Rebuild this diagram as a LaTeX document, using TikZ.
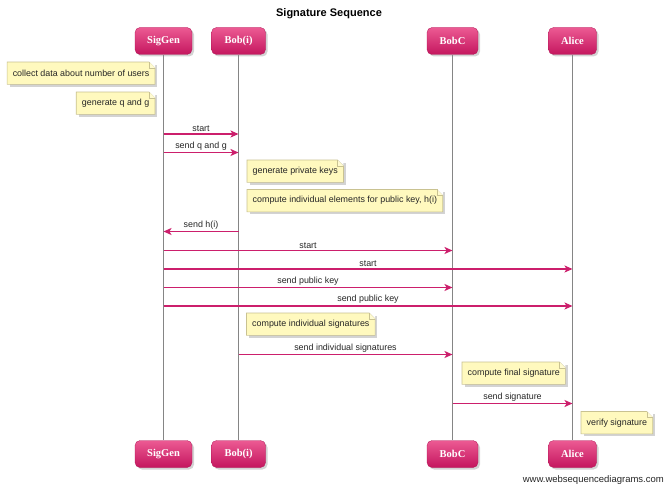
\documentclass[tikz,border=0pt]{standalone}
\usepackage{fontspec}
\setmainfont{Liberation Sans}
\newfontfamily\partfont{Liberation Serif}
\usetikzlibrary{arrows.meta,shadows,calc}
\definecolor{msgc}{HTML}{CC1F6C}
\definecolor{pinkA}{HTML}{EC5A93}
\definecolor{pinkB}{HTML}{C4165E}
\definecolor{notefill}{HTML}{FFF9BE}
\definecolor{notedraw}{HTML}{C9C291}
\definecolor{lifec}{HTML}{858585}
\tikzset{
  part/.style={rounded corners=5pt, minimum width=#1, minimum height=27pt,
    top color=pinkA, bottom color=pinkB, draw=pinkB!90!black, line width=0.3pt,
    drop shadow={shadow xshift=2pt, shadow yshift=-2pt, opacity=0.35},
    font=\partfont\bfseries\fontsize{10.5}{12}\selectfont, text=white},
  lifeline/.style={draw=lifec, line width=1.3pt},
  msg/.style={draw=msgc, line width=1.4pt, -{Stealth[length=8pt,width=7pt,inset=2pt]}},
  msglabel/.style={font=\fontsize{8.9}{10}\selectfont, text=black!85, above=0pt, inner sep=1.5pt},
  notebox/.style={font=\fontsize{8.9}{10}\selectfont, text=black!85, minimum height=22pt,
    inner xsep=5.5pt, inner ysep=2pt, fill=notefill,
    drop shadow={shadow xshift=2.5pt, shadow yshift=-2.5pt, opacity=0.35}},
}
\newcommand\wsdnote[1]{%
  \fill[white] ($(#1.north east)+(-6,0)$) -- (#1.north east) -- ($(#1.north east)+(0,6)$) -- cycle;
  \draw[notedraw, line width=0.6pt] (#1.south west) -- (#1.north west) -- ($(#1.north east)+(-6,0)$)
     -- ($(#1.north east)+(0,6)$) -- (#1.south east) -- cycle;
  \draw[notedraw, line width=0.5pt, fill=notefill!70!white] ($(#1.north east)+(-6,0)$) -- ($(#1.north east)+(-6,6)$) -- ($(#1.north east)+(0,6)$);
}
\begin{document}
\begin{tikzpicture}[x=1pt,y=-1pt]
\useasboundingbox (0,0) rectangle (664,486);
\node[font=\bfseries\fontsize{11}{13}\selectfont] (title) at (329,14) {Signature Sequence};

% participants
\node[part=57pt] (sgT) at (163.5,41) {SigGen};
\node[part=54pt] (bbT) at (238.5,41) {Bob(i)};
\node[part=51pt] (bcT) at (452.5,41) {BobC};
\node[part=48pt] (alT) at (572.5,41) {Alice};
\node[part=57pt] (sgB) at (163.5,454) {SigGen};
\node[part=54pt] (bbB) at (238.5,454) {Bob(i)};
\node[part=51pt] (bcB) at (452.5,454) {BobC};
\node[part=48pt] (alB) at (572.5,454) {Alice};

% lifelines
\draw[lifeline] (sgT) -- (sgB);
\draw[lifeline] (bbT) -- (bbB);
\draw[lifeline] (bcT) -- (bcB);
\draw[lifeline] (alT) -- (alB);

% notes
\node[notebox, anchor=north east] (n1) at (155,62) {collect data about number of users};
\wsdnote{n1}
\node[notebox, anchor=north east] (n2) at (155,92) {generate q and g};
\wsdnote{n2}

% messages
\draw[msg] (sgT.center |- 0,134) -- node[msglabel]{start} (bbT.center |- 0,134);
\draw[msg] (sgT.center |- 0,152.5) -- node[msglabel]{send q and g} (bbT.center |- 0,152.5);

\node[notebox, anchor=north west] (n3) at (247,160) {generate private keys};
\wsdnote{n3}
\node[notebox, anchor=north west] (n4) at (247,189.5) {compute individual elements for public key, h(i)};
\wsdnote{n4}

\draw[msg] (bbT.center |- 0,231.5) -- node[msglabel]{send h(i)} (sgT.center |- 0,231.5);
\draw[msg] (sgT.center |- 0,250.5) -- node[msglabel]{start} (bcT.center |- 0,250.5);
\draw[msg] (sgT.center |- 0,269) -- node[msglabel]{start} (alT.center |- 0,269);
\draw[msg] (sgT.center |- 0,287.5) -- node[msglabel]{send public key} (bcT.center |- 0,287.5);
\draw[msg] (sgT.center |- 0,306) -- node[msglabel]{send public key} (alT.center |- 0,306);

\node[notebox, anchor=north west] (n5) at (246.5,313) {compute individual signatures};
\wsdnote{n5}

\draw[msg] (bbT.center |- 0,354.5) -- node[msglabel]{send individual signatures} (bcT.center |- 0,354.5);

\node[notebox, anchor=north west] (n6) at (462,362) {compute final signature};
\wsdnote{n6}

\draw[msg] (bcT.center |- 0,403.5) -- node[msglabel]{send signature} (alT.center |- 0,403.5);

\node[notebox, anchor=north west] (n7) at (581,411.5) {verify signature};
\wsdnote{n7}

\node[font=\fontsize{9.5}{11}\selectfont, anchor=base east, inner sep=0pt, text=black!85] (wm) at (664,482) {www.websequencediagrams.com};
\end{tikzpicture}
\end{document}
